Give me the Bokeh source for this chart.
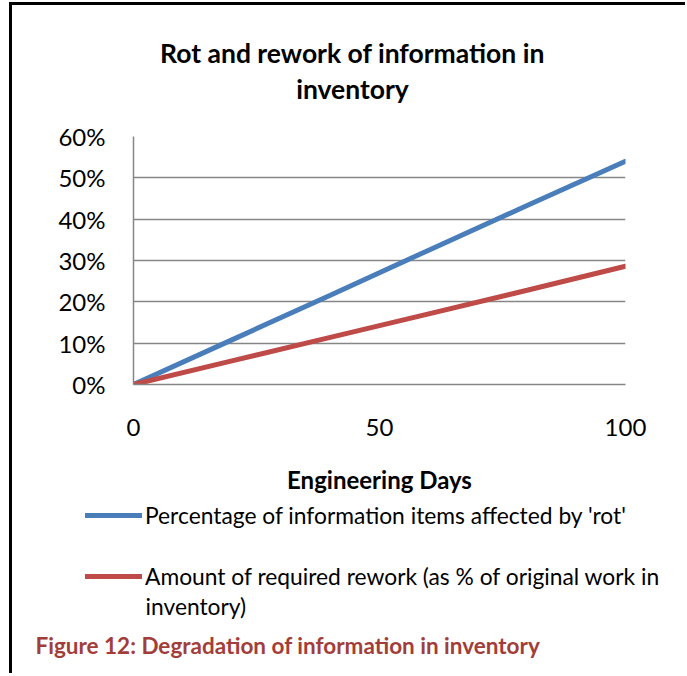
from bokeh.plotting import figure
from bokeh.layouts import column
from bokeh.models import (ColumnDataSource, Legend, LegendItem, Label,
                          NumeralTickFormatter, FixedTicker)
from bokeh.embed import file_html
from bokeh.resources import INLINE

# ---- data ----
days = [0, 20, 40, 60, 80, 100]
rot_pct = [0.0, 0.108, 0.216, 0.325, 0.433, 0.54]
rework_pct = [0.0, 0.057, 0.114, 0.171, 0.228, 0.286]
x_ticks = [0, 50, 100]
y_ticks = [0, 0.1, 0.2, 0.3, 0.4, 0.5, 0.6]

title_lines = ["Rot and rework of information in", "inventory"]
x_title = "Engineering Days"
series_names = ["Percentage of information items affected by 'rot'",
                "Amount of required rework (as % of original work in"]
series2_cont = "inventory)"
caption = "Figure 12: Degradation of information in inventory"

FONT = "Lato"
BLUE = "#4A7EBB"
RED = "#BE4B48"
GRID = "#868686"

W = 673
H_TITLE = 100
H_TOP = 394
H_BOT = 174

src = ColumnDataSource(dict(d=days, rot=rot_pct, rw=rework_pct))


def strip(h):
    f = figure(width=W, height=h, x_range=(0, W), y_range=(h, 0),
               output_backend="svg", toolbar_location=None,
               x_axis_location=None, y_axis_location=None,
               min_border_left=0, min_border_right=0, min_border_top=0,
               min_border_bottom=0, frame_align=False)
    f.grid.visible = False
    f.outline_line_color = None
    return f


# ---------- title strip ----------
t = strip(H_TITLE)
for txt, yy in zip(title_lines, [47, 83]):
    t.add_layout(Label(x=340, y=yy, text=txt, text_align="center",
                       text_baseline="middle", text_font=FONT,
                       text_font_size="26.5px", text_font_style="bold",
                       text_color="#000000"))

# ---------- chart ----------
p = figure(width=W, height=H_TOP, x_range=(0, 100), y_range=(0, 0.6),
           output_backend="svg", toolbar_location=None, frame_align=False,
           min_border_left=121, min_border_right=60, min_border_top=31,
           min_border_bottom=H_TOP - 31 - 248)

p.line("d", "rot", source=src, line_color=BLUE, line_width=5, line_cap="round")
p.line("d", "rw", source=src, line_color=RED, line_width=5, line_cap="round")

p.outline_line_color = None
p.xgrid.grid_line_color = None
p.ygrid.grid_line_color = GRID
p.ygrid.grid_line_width = 1.5
p.ygrid.ticker = FixedTicker(ticks=y_ticks)

p.yaxis.ticker = FixedTicker(ticks=y_ticks)
p.yaxis.formatter = NumeralTickFormatter(format="0%")
p.xaxis.ticker = FixedTicker(ticks=x_ticks)
for ax in (p.xaxis[0], p.yaxis[0]):
    ax.axis_line_color = GRID
    ax.axis_line_width = 1.5
    ax.major_tick_line_color = None
    ax.minor_tick_line_color = None
    ax.major_label_text_font = FONT
    ax.major_label_text_font_size = "24px"
    ax.major_label_text_color = "#000000"
p.yaxis.major_label_standoff = 22
p.xaxis.major_label_standoff = 28
p.xaxis.axis_label = x_title
p.xaxis.axis_label_text_font = FONT
p.xaxis.axis_label_text_font_size = "24px"
p.xaxis.axis_label_text_font_style = "bold"
p.xaxis.axis_label_text_color = "#000000"
p.xaxis.axis_label_standoff = 26

# ---------- legend + caption strip ----------
q = strip(H_BOT)
s1 = q.line(x="d", y="rot", source=src, line_color=BLUE, line_width=5,
            line_cap="round", visible=False)
s2 = q.line(x="d", y="rw", source=src, line_color=RED, line_width=5,
            line_cap="round", visible=False)

legend = Legend(items=[LegendItem(label=series_names[0], renderers=[s1]),
                       LegendItem(label=series_names[1], renderers=[s2])],
                orientation="vertical", location=(73, 83),
                label_text_font=FONT, label_text_font_size="22.8px",
                label_text_color="#000000",
                glyph_width=57, glyph_height=20, label_height=20,
                label_standoff=3, spacing=33, padding=0, margin=0,
                border_line_color=None, background_fill_alpha=0,
                inactive_fill_alpha=0)
q.add_layout(legend, "center")

q.add_layout(Label(x=133, y=106, text=series2_cont, text_align="left",
                   text_baseline="middle", text_font=FONT,
                   text_font_size="22.8px", text_color="#000000"))
q.add_layout(Label(x=23, y=146, text=caption, text_align="left",
                   text_baseline="middle", text_font=FONT,
                   text_font_size="22.5px", text_font_style="bold",
                   text_color="#A33D3A"))

layout = column(t, p, q, spacing=0,
                styles={"border-top": "3px solid #000", "border-left": "3px solid #000",
                        "margin-left": "9px", "margin-top": "2px"})

open("out.html", "w").write(file_html(layout, INLINE))
